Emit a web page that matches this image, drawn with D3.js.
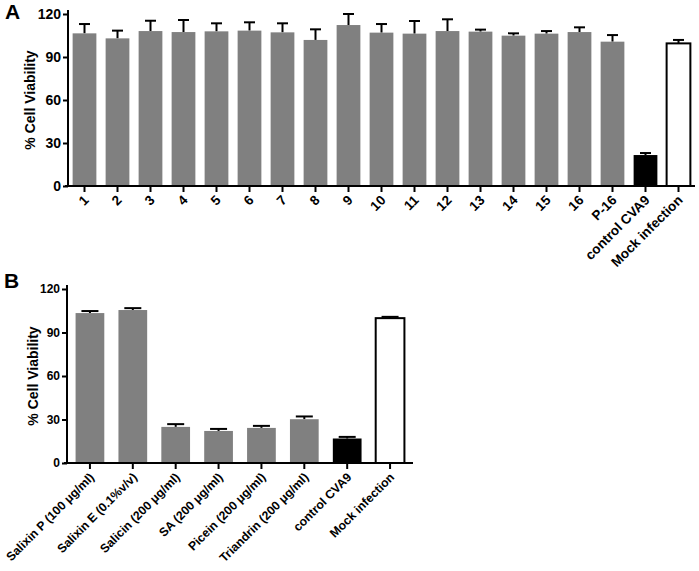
<!DOCTYPE html>
<html>
<head>
<meta charset="utf-8">
<script src="https://cdn.jsdelivr.net/npm/d3@7"></script>
<style>
  body { margin: 0; background: #fff; }
  text { font-family: "Liberation Sans", Arial, sans-serif; font-weight: bold; fill: #000; }
</style>
</head>
<body>
<svg id="chart" width="699" height="571"></svg>
<script>
// panel A
let catsA = ["1","2","3","4","5","6","7","8","9","10","11","12","13","14","15","16","P-16","control CVA9","Mock infection"];
let valsA = [106.5,103,108.1,107.4,107.9,108.4,107.2,101.9,112.3,107,106.3,108.1,107.7,104.9,106.3,107.4,100.7,21.6,99.5];
let errA = [6.5,5.4,7.2,8.4,5.6,5.8,6.3,7.4,7.7,6,8.8,8.2,1.4,1.6,1.8,3.3,4.6,1.4,2.4];

// panel B
let catsB = ["Salixin P (100 \u03bcg/ml)","Salixin E (0.1%v/v)","Salicin (200 \u03bcg/ml)","SA (200 \u03bcg/ml)","Picein (200 \u03bcg/ml)","Triandrin (200 \u03bcg/ml)","control CVA9","Mock infection"];
let valsB = [103.4,105.5,24.9,22.1,24.2,30.2,16.9,99.9];
let errB = [1.4,1.3,1.9,1.4,1.4,1.9,1.1,0.9];

let yTicks = [0,30,60,90,120];

let svg = d3.select("#chart");

function fillFor(name) {
  if (name == "control CVA9") return "#000";
  if (name == "Mock infection") return "#fff";
  return "#808080";
}

function panel(opt) {
  let {cats, vals, errs, x0, x1, y0, y1, pIn, pOut, tickFont, labelFont, capW, letter, lx, ly, titleX} = opt;
  let g = svg.append("g");
  let x = d3.scaleBand().domain(cats).range([x0, x1]).paddingInner(pIn).paddingOuter(pOut);
  let y = d3.scaleLinear().domain([0, 120]).range([y0, y1]);

  let data = cats.map((c, i) => ({c: c, v: vals[i], e: errs[i]}));

  // error bars (upper only)
  let eb = g.selectAll("g.err").data(data).enter().append("g").attr("class", "err");
  eb.append("line")
    .attr("x1", d => x(d.c) + x.bandwidth() / 2)
    .attr("x2", d => x(d.c) + x.bandwidth() / 2)
    .attr("y1", d => y(d.v))
    .attr("y2", d => y(d.v + d.e))
    .attr("stroke", "#000").attr("stroke-width", 2);
  eb.append("line")
    .attr("x1", d => x(d.c) + x.bandwidth() / 2 - capW / 2)
    .attr("x2", d => x(d.c) + x.bandwidth() / 2 + capW / 2)
    .attr("y1", d => y(d.v + d.e))
    .attr("y2", d => y(d.v + d.e))
    .attr("stroke", "#000").attr("stroke-width", 2);

  g.selectAll("rect.bar").data(data).enter().append("rect")
    .attr("class", "bar")
    .attr("x", d => x(d.c))
    .attr("y", d => y(d.v))
    .attr("width", x.bandwidth())
    .attr("height", d => y(0) - y(d.v))
    .attr("fill", d => fillFor(d.c))
    .attr("stroke", d => d.c == "Mock infection" ? "#000" : "none")
    .attr("stroke-width", 2);

  // axes
  let ay = g.append("g").attr("transform", `translate(${x0},0)`)
    .call(d3.axisLeft(y).tickValues(yTicks).tickSize(5).tickSizeOuter(0).tickPadding(2));
  ay.select("path").attr("d", `M0,${y0}V${y1 - 4}`);
  ay.selectAll("path,line").attr("stroke", "#000").attr("stroke-width", 2);
  ay.selectAll("text").style("font-size", tickFont + "px").style("font-weight", "bold")
    .style("font-family", "Liberation Sans, Arial, sans-serif");

  let ax = g.append("g").attr("transform", `translate(0,${y0})`)
    .call(d3.axisBottom(x).tickSize(6).tickSizeOuter(0));
  ax.select("path").attr("d", `M${x0 - 3},0H${x1}`);
  ax.selectAll("path,line").attr("stroke", "#000").attr("stroke-width", 2);
  ax.selectAll("text")
    .style("font-size", labelFont + "px").style("font-weight", "bold")
    .style("font-family", "Liberation Sans, Arial, sans-serif")
    .attr("text-anchor", "end")
    .attr("dy", null).attr("y", null)
    .attr("transform", "translate(5,15) rotate(-45)");

  g.append("text")
    .attr("transform", `translate(${titleX},${(y0 + y1) / 2}) rotate(-90)`)
    .attr("text-anchor", "middle")
    .style("font-size", "14px")
    .text("% Cell Viability");

  g.append("text").attr("x", lx).attr("y", ly).style("font-size", "21px").text(letter);
}

panel({cats: catsA, vals: valsA, errs: errA, x0: 68, x1: 695, y0: 186, y1: 14,
  pIn: 0.28, pOut: 0.14, tickFont: 14, labelFont: 13.5, capW: 11, letter: "A", lx: 5, ly: 19, titleX: 35});

panel({cats: catsB, vals: valsB, errs: errB, x0: 67, x1: 413, y0: 463, y1: 289,
  pIn: 0.33, pOut: 0.2, tickFont: 12, labelFont: 12.2, capW: 17, letter: "B", lx: 4, ly: 288, titleX: 38});
</script>
</body>
</html>
